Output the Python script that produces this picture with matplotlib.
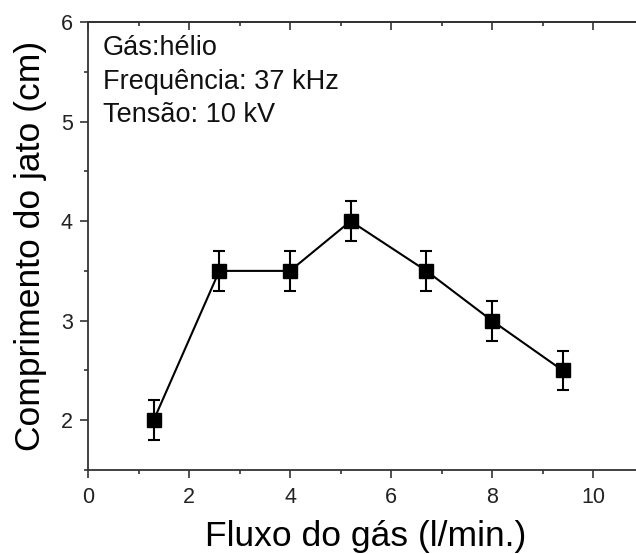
import matplotlib
matplotlib.use('Agg')
from matplotlib import pyplot as plt, ticker

# gas flow (l/min) vs. plasma jet length (cm)
flow = [1.3, 2.6, 4.0, 5.2, 6.7, 8.0, 9.4]
jet_length = [2.0, 3.5, 3.5, 4.0, 3.5, 3.0, 2.5]
jet_error = [0.2, 0.2, 0.2, 0.2, 0.2, 0.2, 0.2]
info_lines = ['Gás:hélio', 'Frequência: 37 kHz', 'Tensão: 10 kV']

FRAME = '#333333'


def set_locators(axis, major, minor):
    axis.set_major_locator(ticker.MultipleLocator(major))
    axis.set_minor_locator(ticker.MultipleLocator(minor))


def main():
    plt.rcParams['font.family'] = ['Liberation Sans', 'DejaVu Sans']

    fig = plt.figure(figsize=(6.36, 5.54), dpi=100)
    ax = fig.add_axes([0.1384, 0.1516, 0.8734, 0.8087])

    ax.errorbar(flow, jet_length, yerr=jet_error, color='black', lw=1.5,
                marker='s', markersize=10, capsize=4, elinewidth=1.5,
                capthick=1.5)

    ax.set_xlim(0, 11)
    ax.set_ylim(1.5, 6)
    set_locators(ax.xaxis, 2, 1)
    set_locators(ax.yaxis, 1, 0.5)

    # bottom/left ticks point out, top/right ticks point in
    ax.tick_params(which='both', direction='out', top=False, right=False,
                   width=1.2, labelsize=15.5, colors=FRAME, labelcolor='#222222')
    ax.tick_params(which='major', length=6)
    ax.tick_params(which='minor', length=3)
    ax.tick_params(axis='x', pad=6)
    ax.tick_params(axis='y', pad=5)

    top = ax.secondary_xaxis('top')
    set_locators(top.xaxis, 2, 1)
    top.xaxis.set_major_formatter(ticker.NullFormatter())
    right = ax.secondary_yaxis('right')
    set_locators(right.yaxis, 1, 0.5)
    right.yaxis.set_major_formatter(ticker.NullFormatter())
    for sec in (top, right):
        sec.tick_params(which='both', direction='in', width=1.2, colors=FRAME)
        sec.tick_params(which='major', length=6)
        sec.tick_params(which='minor', length=3)

    for a in (ax, top, right):
        for spine in a.spines.values():
            spine.set_linewidth(1.3)
            spine.set_color(FRAME)

    ax.set_xlabel('Fluxo do gás (l/min.)', fontsize=25.5, labelpad=9)
    ax.set_ylabel('Comprimento do jato (cm)', fontsize=25.5, labelpad=10)

    for i, line in enumerate(info_lines):
        ax.text(0.027, 0.97 - i * 0.074, line, transform=ax.transAxes,
                fontsize=19.5, va='top', ha='left', color='#111111')

    fig.savefig('out.png', dpi=100)


if __name__ == '__main__':
    main()
